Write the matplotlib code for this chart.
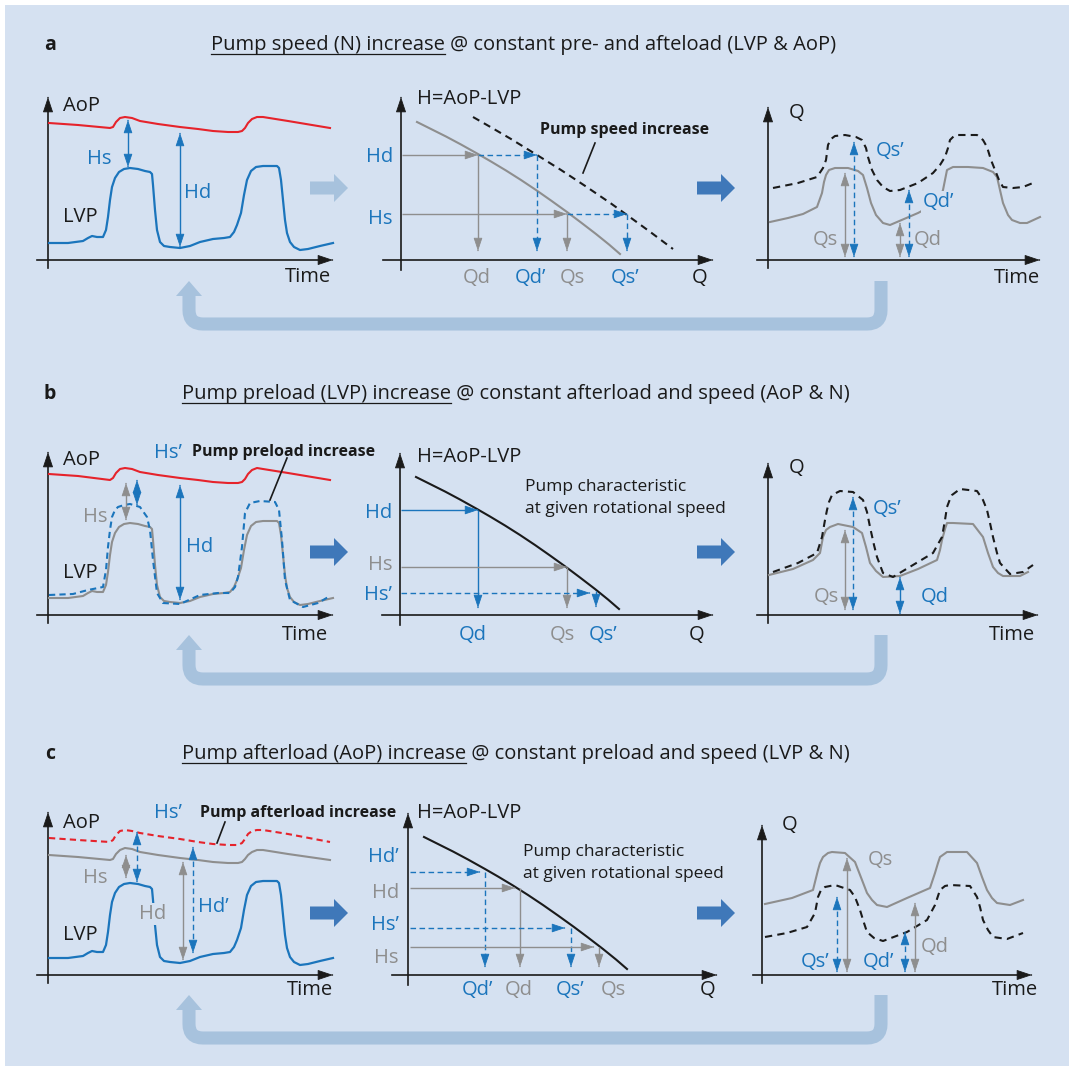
import numpy as np
import matplotlib
matplotlib.use('Agg')
import matplotlib.pyplot as plt
from matplotlib import patches
from matplotlib.path import Path

W, H = 1074, 1071
plt.rcParams['font.family'] = ['Open Sans', 'DejaVu Sans']

BG = '#d5e1f1'
BLUE = '#1b75bc'
RED = '#e6232b'
GRAY = '#8e8e8e'
DARK = '#1a1a1a'
FAT = '#3f78b9'
FAT_LIGHT = '#a7c2dd'

# ---- left column: pressure vs time (values in px above the time axis) ----
aop_t = [1, 30, 62, 65, 68, 72, 77, 84, 92, 110, 132, 150, 165, 180, 190, 194, 197, 200, 204, 209, 215, 240, 282]
aop_a = [137, 135, 132, 133, 138, 142, 143, 142, 139, 136, 133, 131, 129, 128, 128, 129, 132, 137, 141, 143, 143, 139, 132]
aop_b = [141, 139, 135, 137, 142, 146, 147, 146, 143, 140, 137, 135, 133, 132, 132, 133, 136, 141, 145, 147, 146, 142, 135]
aop_c = [120, 118, 115, 116, 121, 125, 127, 126, 123, 120, 117, 115, 113, 112, 112, 113, 116, 120, 123, 125, 125, 121, 115]
aop_c2 = [137, 135, 133, 135, 140, 144, 145, 144, 142, 139, 136, 133, 131, 130, 130, 132, 136, 141, 144, 145, 145, 141, 133]

lvp_t = [1, 20, 35, 40, 44, 49, 55, 58, 60, 62, 64, 67, 71, 76, 82, 90, 97, 102, 104, 105, 107, 109, 112, 116,
         122, 132, 142, 152, 165, 176, 182, 186, 189, 193, 196, 199, 203, 208, 215, 229, 231, 233, 235, 237,
         239, 242, 246, 252, 260, 272, 285]
lvp = [17, 17, 19, 22, 24, 23, 23, 30, 43, 60, 73, 82, 88, 91, 92, 91, 89, 88, 86, 75, 50, 30, 18, 14,
       13, 12, 14, 18, 21, 22, 23, 28, 35, 47, 65, 80, 89, 93, 94, 94, 92, 80, 60, 40,
       27, 18, 13, 10, 11, 14, 17]

lvp2_t = [1, 25, 40, 50, 55, 58, 60, 62, 64, 67, 70, 76, 82, 92, 99, 102, 105, 109, 115, 132, 152, 170, 182,
          187, 190, 194, 197, 202, 212, 227, 231, 234, 237, 242, 255, 270, 282]
lvp2 = [20, 21, 25, 27, 28, 45, 68, 85, 98, 105, 108, 110, 111, 108, 98, 85, 55, 22, 12, 11, 20, 22, 22,
        28, 38, 68, 102, 112, 114, 113, 105, 75, 35, 15, 8, 12, 19]

# ---- middle column: pump characteristic H(Q) ----
pc_q = [16, 30, 45, 60, 77, 90, 105, 120, 135, 150, 166, 180, 195, 208, 219]
pc_h = [138, 131, 123.5, 115.5, 106, 98.5, 89.5, 80, 70, 59.5, 48, 37.5, 26, 15.5, 6]
pc2_q = [72, 90, 110, 136, 160, 185, 210, 226, 250, 272]
pc2_h = [143, 132.7, 121, 105, 90, 73.5, 56.5, 45, 27.5, 11]

# ---- right column: flow vs time ----
qa_t = [2, 20, 35, 49, 54, 56, 58, 61, 67, 80, 90, 95, 99, 103, 108, 115, 122, 150, 165, 172, 175, 179, 185,
        200, 215, 225, 229, 232, 235, 240, 244, 252, 259, 272]
qa = [38, 42, 46, 53, 67, 78, 85, 90, 92, 92, 89, 85, 72, 57, 45, 37, 35, 47, 55, 62, 70, 90, 93,
      93, 92, 88, 83, 70, 57, 45, 40, 37, 37, 43]
qa2_t = [5, 30, 49, 55, 58, 60, 63, 67, 77, 88, 94, 98, 100, 104, 109, 115, 122, 132, 150, 165, 172, 177, 180,
         182, 186, 189, 200, 209, 215, 219, 223, 227, 231, 235, 245, 255, 265]
qa2 = [72, 77, 83, 92, 100, 115, 121, 124, 125, 123, 120, 112, 103, 90, 80, 73, 69, 70, 77, 87, 95, 103, 112,
       120, 124, 125, 125, 125, 120, 113, 100, 90, 80, 73, 72, 73, 77]

qb_t = [1, 25, 45, 52, 55, 58, 62, 70, 85, 94, 98, 102, 108, 115, 132, 150, 169, 172, 174, 177, 179, 185, 205,
        215, 220, 225, 230, 235, 252, 260]
qb = [40, 46, 55, 62, 78, 85, 88, 91, 88, 82, 68, 52, 44, 38, 39, 46, 55, 65, 75, 86, 92, 92, 91,
      78, 62, 48, 42, 39, 39, 43]
qb2_t = [5, 30, 49, 54, 57, 59, 61, 64, 72, 85, 95, 99, 102, 106, 109, 115, 125, 145, 165, 174, 177, 179, 182,
         184, 192, 209, 215, 219, 222, 225, 229, 232, 242, 255, 265]
qb2 = [43, 52, 62, 78, 95, 105, 113, 120, 124, 123, 115, 103, 88, 70, 58, 42, 38, 50, 62, 78, 95, 108, 116,
       120, 126, 124, 115, 105, 92, 78, 62, 52, 41, 43, 50]

qc_t = [3, 30, 51, 56, 58, 61, 66, 70, 83, 93, 100, 105, 110, 115, 125, 145, 168, 173, 176, 178, 185, 205,
        215, 220, 225, 230, 235, 248, 261]
qc = [71, 77, 85, 105, 112, 118, 122, 123, 122, 113, 95, 82, 75, 70, 68, 77, 87, 102, 112, 118, 123, 123,
      112, 98, 85, 77, 72, 70, 75]
qc2_t = [3, 25, 45, 53, 56, 59, 63, 73, 88, 93, 98, 102, 105, 112, 121, 145, 165, 173, 178, 183, 188, 208,
         215, 218, 221, 226, 231, 245, 261]
qc2 = [38, 42, 48, 62, 78, 85, 88, 90, 85, 78, 65, 52, 43, 37, 34, 43, 55, 70, 85, 89, 90, 89,
       78, 68, 55, 45, 38, 36, 42]

titles = [
    ('a', 'Pump speed (N) increase', ' @ constant pre- and afteload (LVP & AoP)', 211, 50),
    ('b', 'Pump preload (LVP) increase', ' @ constant afterload and speed (AoP & N)', 182, 399),
    ('c', 'Pump afterload (AoP) increase', ' @ constant preload and speed (LVP & N)', 182, 759),
]

LBL = 14.5
fig = plt.figure(figsize=(W / 100, H / 100), dpi=100)
bg = fig.add_axes([0, 0, 1, 1])
bg.set_xlim(0, W)
bg.set_ylim(H, 0)
bg.axis('off')
bg.add_patch(patches.Rectangle((5, 5), W - 10, H - 10, color=BG, lw=0, zorder=0))


def panel(ox, oy):
    ax = fig.add_axes([(ox - 50) / W, 1 - (oy + 50) / H, 400 / W, 270 / H])
    ax.set_xlim(-50, 350)
    ax.set_ylim(-50, 220)
    ax.axis('off')
    return ax


def head(ax, x0, y0, x1, y1, color, ms=11):
    d = np.hypot(x1 - x0, y1 - y0)
    ux, uy = (x1 - x0) / d, (y1 - y0) / d
    ax.annotate('', xy=(x1, y1), xytext=(x1 - ux * 0.5, y1 - uy * 0.5),
                arrowprops=dict(arrowstyle='-|>,head_length=0.75,head_width=0.25', color=color,
                                lw=0.6, shrinkA=0, shrinkB=0, mutation_scale=ms))


def arrow(ax, x0, y0, x1, y1, color, dashed=False, double=False, lw=1.0):
    d = np.hypot(x1 - x0, y1 - y0)
    ux, uy = (x1 - x0) / d, (y1 - y0) / d
    a = 5 if double else 0
    ls = (0, (4, 2.5)) if dashed else '-'
    ax.plot([x0 + ux * a, x1 - ux * 5], [y0 + uy * a, y1 - uy * 5], color=color, lw=lw, ls=ls,
            solid_capstyle='butt', dash_capstyle='butt')
    head(ax, x0, y0, x1, y1, color)
    if double:
        head(ax, x1, y1, x0, y0, color)


def frame(ax, x0, x1, y0, y1):
    ax.plot([x0, x1 - 6], [0, 0], color=DARK, lw=1.2)
    ax.plot([0, 0], [y0, y1 - 6], color=DARK, lw=1.2)
    head(ax, x0, 0, x1, 0, DARK, ms=13)
    head(ax, 0, y0, 0, y1, DARK, ms=13)


def label(ax, x, y, s, color=DARK, ha='center', size=LBL, cover=False, **kw):
    bb = dict(facecolor=BG, edgecolor='none', pad=1) if cover else None
    ax.text(x, y, s, color=color, ha=ha, va='center', fontsize=size, bbox=bb, **kw)


# ---------------- titles ----------------
r = fig.canvas.get_renderer()
for letter, ul, rest, x, y in titles:
    bg.text(50, y, letter, fontsize=14, fontweight='bold', color=DARK, va='baseline', ha='center')
    t = bg.text(x, y, ul + rest, fontsize=14.5, color=DARK, va='baseline', ha='left')
    tp = bg.text(x, y, ul, fontsize=14.5, va='baseline', ha='left', alpha=0)
    w = tp.get_window_extent(r).width
    tp.remove()
    bg.plot([x, x + w], [y + 3.5, y + 3.5], color=DARK, lw=0.9)

# ---------------- big arrows ----------------
for (x, y, c) in [(310, 188, FAT_LIGHT), (697, 188, FAT), (310, 552, FAT), (697, 552, FAT),
                  (310, 913, FAT), (697, 913, FAT)]:
    bg.add_patch(patches.FancyArrow(x, y, 38, 0, width=13, head_width=28, head_length=14,
                                    length_includes_head=True, color=c, lw=0))

for top, band in [(281, 324), (635, 679), (995, 1038)]:
    rr = 14
    xl, xr = 189, 881
    verts = [(xr, top), (xr, band - rr), (xr, band), (xr - rr, band), (xl + rr, band), (xl, band),
             (xl, band - rr), (xl, top + 14)]
    codes = [Path.MOVETO, Path.LINETO, Path.CURVE3, Path.CURVE3, Path.LINETO, Path.CURVE3, Path.CURVE3,
             Path.LINETO]
    bg.add_patch(patches.PathPatch(Path(verts, codes), fill=False, lw=9.4, edgecolor=FAT_LIGHT,
                                   capstyle='butt', joinstyle='miter'))
    bg.add_patch(patches.Polygon([(xl, top), (xl - 13, top + 15), (xl + 13, top + 15)],
                                 closed=True, color=FAT_LIGHT, lw=0))

# ================= panel a =================
ax = panel(48, 260)
frame(ax, -11, 285, -8, 163)
ax.plot(aop_t, aop_a, color=RED, lw=1.5)
ax.plot(lvp_t, lvp, color=BLUE, lw=1.6)
arrow(ax, 80, 140, 80, 93, BLUE, double=True)
arrow(ax, 132, 127, 132, 13, BLUE, double=True)
label(ax, 15, 154, 'AoP', ha='left')
label(ax, 15, 43, 'LVP', ha='left')
label(ax, 51, 101, 'Hs', BLUE)
label(ax, 150, 67, 'Hd', BLUE)
label(ax, 260, -17, 'Time')

ax = panel(401, 260)
frame(ax, -18, 312, -10, 163)
ax.plot(pc_q, pc_h, color=GRAY, lw=1.5)
ax.plot(pc2_q, pc2_h, color=DARK, lw=1.5, ls=(0, (3.5, 2.5)))
arrow(ax, 1, 105, 77, 105, GRAY)
arrow(ax, 77, 105, 136, 105, BLUE, dashed=True)
arrow(ax, 77, 105, 77, 9, GRAY)
arrow(ax, 136, 105, 136, 9, BLUE, dashed=True)
arrow(ax, 1, 46, 166, 46, GRAY)
arrow(ax, 166, 46, 226, 46, BLUE, dashed=True)
arrow(ax, 166, 46, 166, 9, GRAY)
arrow(ax, 226, 46, 226, 9, BLUE, dashed=True)
ax.plot([194, 182], [117, 87], color=DARK, lw=1.2)
label(ax, 16, 161, 'H=AoP-LVP', ha='left')
label(ax, 139, 130, 'Pump speed increase', ha='left', size=11.5, fontweight='bold')
label(ax, -8, 103, 'Hd', BLUE, ha='right')
label(ax, -8, 41, 'Hs', BLUE, ha='right')
label(ax, 76, -18, 'Qd', GRAY)
label(ax, 129, -18, 'Qd\u2019', BLUE)
label(ax, 171, -18, 'Qs', GRAY)
label(ax, 224, -18, 'Qs\u2019', BLUE)
label(ax, 299, -18, 'Q')

ax = panel(768, 260)
frame(ax, -11, 272, -8, 153)
ax.plot(qa_t, qa, color=GRAY, lw=1.5)
ax.plot(qa2_t, qa2, color=DARK, lw=1.5, ls=(0, (3.5, 2.5)))
arrow(ax, 77, 87, 77, 3, GRAY, double=True)
arrow(ax, 86, 118, 86, 3, BLUE, dashed=True, double=True)
arrow(ax, 132, 37, 132, 3, GRAY, double=True)
arrow(ax, 141, 70, 141, 3, BLUE, dashed=True, double=True)
label(ax, 29, 147, 'Q')
label(ax, 249, -18, 'Time')
label(ax, 57, 20, 'Qs', GRAY)
label(ax, 122, 109, 'Qs\u2019', BLUE)
label(ax, 170, 58, 'Qd\u2019', BLUE, cover=True)
label(ax, 160, 20, 'Qd', GRAY)

# ================= panel b =================
ax = panel(48, 615)
frame(ax, -11, 285, -8, 163)
ax.plot(aop_t, aop_b, color=RED, lw=1.5)
ax.plot(lvp_t, lvp, color=GRAY, lw=1.5)
ax.plot(lvp2_t, lvp2, color=BLUE, lw=1.5, ls=(0, (3, 2)))
arrow(ax, 78, 132, 78, 95, GRAY, double=True)
arrow(ax, 89, 135, 89, 110, BLUE, double=True)
arrow(ax, 132, 130, 132, 15, BLUE, double=True)
ax.plot([239, 222], [157, 115], color=DARK, lw=1.2)
label(ax, 15, 155, 'AoP', ha='left')
label(ax, 15, 42, 'LVP', ha='left')
label(ax, 120, 162, 'Hs\u2019', BLUE)
label(ax, 144, 163, 'Pump preload increase', ha='left', size=11.5, fontweight='bold')
label(ax, 47, 98, 'Hs', GRAY)
label(ax, 152, 68, 'Hd', BLUE)
label(ax, 257, -20, 'Time')

ax = panel(400, 615)
frame(ax, -18, 313, -10, 162)
ax.plot(pc_q, pc_h, color=DARK, lw=1.5)
arrow(ax, 1, 105, 78, 105, BLUE)
arrow(ax, 78, 105, 78, 7, BLUE)
arrow(ax, 1, 48, 167, 48, GRAY)
arrow(ax, 167, 48, 167, 7, GRAY)
arrow(ax, 1, 22, 190, 22, BLUE, dashed=True)
arrow(ax, 196, 24, 196, 8, BLUE)
label(ax, 17, 158, 'H=AoP-LVP', ha='left')
label(ax, 125, 117, 'Pump characteristic\nat given rotational speed', ha='left', size=12.5, linespacing=1.45)
label(ax, -8, 102, 'Hd', BLUE, ha='right')
label(ax, -8, 50, 'Hs', GRAY, ha='right')
label(ax, -8, 20, 'Hs\u2019', BLUE, ha='right')
label(ax, 73, -20, 'Qd', BLUE)
label(ax, 162, -20, 'Qs', GRAY)
label(ax, 203, -20, 'Qs\u2019', BLUE)
label(ax, 297, -20, 'Q')

ax = panel(768, 615)
frame(ax, -11, 270, -8, 152)
ax.plot(qb_t, qb, color=GRAY, lw=1.5)
ax.plot(qb2_t, qb2, color=DARK, lw=1.5, ls=(0, (3.5, 2.5)))
arrow(ax, 77, 85, 77, 5, GRAY, double=True)
arrow(ax, 85, 118, 85, 5, BLUE, dashed=True, double=True)
arrow(ax, 132, 38, 132, 1, BLUE, double=True)
label(ax, 29, 147, 'Q')
label(ax, 244, -20, 'Time')
label(ax, 58, 18, 'Qs', GRAY)
label(ax, 119, 106, 'Qs\u2019', BLUE)
label(ax, 167, 18, 'Qd', BLUE)

# ================= panel c =================
ax = panel(48, 975)
frame(ax, -11, 285, -8, 163)
ax.plot(aop_t, aop_c, color=GRAY, lw=1.5)
ax.plot(aop_t, aop_c2, color=RED, lw=1.5, ls=(0, (3, 2)))
ax.plot(lvp_t, lvp, color=BLUE, lw=1.6)
arrow(ax, 78, 120, 78, 97, GRAY, double=True)
arrow(ax, 89, 143, 89, 93, BLUE, dashed=True, double=True)
arrow(ax, 135, 113, 135, 15, GRAY, double=True)
arrow(ax, 145, 128, 145, 22, BLUE, dashed=True, double=True)
ax.plot([177, 169], [153, 132], color=DARK, lw=1.2)
label(ax, 15, 152, 'AoP', ha='left')
label(ax, 15, 40, 'LVP', ha='left')
label(ax, 120, 162, 'Hs\u2019', BLUE)
label(ax, 152, 162, 'Pump afterload increase', ha='left', size=11.5, fontweight='bold')
label(ax, 47, 97, 'Hs', GRAY)
label(ax, 105, 61, 'Hd', GRAY, cover=True)
label(ax, 165, 68, 'Hd\u2019', BLUE)
label(ax, 262, -15, 'Time')

ax = panel(408, 975)
frame(ax, -16, 309, -10, 162)
ax.plot(pc_q, pc_h, color=DARK, lw=1.5)
arrow(ax, 2, 103, 72, 103, BLUE, dashed=True)
arrow(ax, 77, 103, 77, 8, BLUE, dashed=True)
arrow(ax, 2, 87, 107, 87, GRAY)
arrow(ax, 112, 87, 112, 8, GRAY)
arrow(ax, 2, 47, 157, 47, BLUE, dashed=True)
arrow(ax, 163, 47, 163, 8, BLUE, dashed=True)
arrow(ax, 2, 28, 186, 28, GRAY)
arrow(ax, 191, 28, 191, 8, GRAY)
label(ax, 9, 162, 'H=AoP-LVP', ha='left')
label(ax, 115, 112, 'Pump characteristic\nat given rotational speed', ha='left', size=12.5, linespacing=1.45)
label(ax, -9, 118, 'Hd\u2019', BLUE, ha='right')
label(ax, -9, 82, 'Hd', GRAY, ha='right')
label(ax, -9, 50, 'Hs\u2019', BLUE, ha='right')
label(ax, -9, 17, 'Hs', GRAY, ha='right')
label(ax, 69, -15, 'Qd\u2019', BLUE)
label(ax, 111, -15, 'Qd', GRAY)
label(ax, 162, -15, 'Qs\u2019', BLUE)
label(ax, 205, -15, 'Qs', GRAY)
label(ax, 300, -15, 'Q')

ax = panel(762, 975)
frame(ax, -9, 270, -8, 150)
ax.plot(qc_t, qc, color=GRAY, lw=1.5)
ax.plot(qc2_t, qc2, color=DARK, lw=1.5, ls=(0, (3.5, 2.5)))
arrow(ax, 75, 78, 75, 3, BLUE, dashed=True, double=True)
arrow(ax, 85, 117, 85, 3, GRAY, double=True)
arrow(ax, 143, 43, 143, 3, BLUE, dashed=True, double=True)
arrow(ax, 153, 72, 153, 3, GRAY, double=True)
label(ax, 28, 150, 'Q')
label(ax, 253, -15, 'Time')
label(ax, 118, 115, 'Qs', GRAY)
label(ax, 53, 13, 'Qs\u2019', BLUE)
label(ax, 116, 13, 'Qd\u2019', BLUE)
label(ax, 173, 28, 'Qd', GRAY)

fig.savefig('out.png', dpi=100)
